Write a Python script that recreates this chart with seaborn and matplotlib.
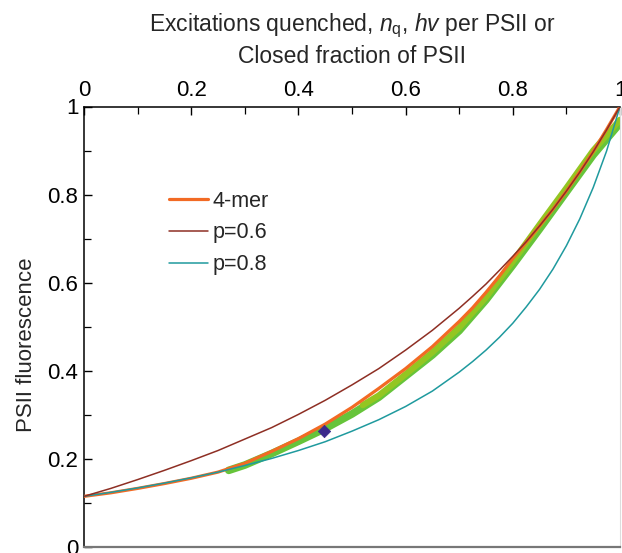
import matplotlib
matplotlib.use("Agg")
import matplotlib.pyplot as plt
import seaborn as sns
import pandas as pd
from matplotlib.ticker import MultipleLocator

# ---- data ----
q_grid = [0.0, 0.05, 0.1, 0.15, 0.2, 0.25, 0.3, 0.35, 0.4, 0.45, 0.5, 0.55,
          0.6, 0.65, 0.7, 0.725, 0.75, 0.775, 0.8, 0.825, 0.85, 0.875, 0.9,
          0.925, 0.95, 0.975, 1.0]
tetramer = [0.115, 0.123, 0.133, 0.144, 0.156, 0.170, 0.190, 0.217, 0.246, 0.279,
            0.317, 0.360, 0.405, 0.455, 0.512, 0.543, 0.578, 0.615, 0.655, 0.692,
            0.729, 0.767, 0.808, 0.852, 0.898, 0.948, 1.0]
p06 = [0.115, 0.133, 0.153, 0.174, 0.196, 0.219, 0.245, 0.271, 0.301, 0.333,
       0.368, 0.405, 0.447, 0.492, 0.542, 0.569, 0.597, 0.628, 0.660, 0.693,
       0.729, 0.767, 0.808, 0.851, 0.897, 0.947, 1.0]
p08 = [0.115, 0.124, 0.134, 0.145, 0.157, 0.170, 0.185, 0.201, 0.219, 0.239,
       0.263, 0.289, 0.319, 0.354, 0.397, 0.421, 0.447, 0.476, 0.508, 0.545,
       0.585, 0.631, 0.684, 0.745, 0.816, 0.899, 1.0]

green_q = [0.27, 0.30, 0.35, 0.40, 0.45, 0.50, 0.55, 0.60, 0.65, 0.70, 0.75,
           0.80, 0.85, 0.90, 0.95, 1.0]
green_f = [0.174, 0.186, 0.212, 0.240, 0.269, 0.302, 0.340, 0.388, 0.436, 0.491,
           0.561, 0.640, 0.722, 0.806, 0.890, 0.962]
lime_q = [0.52, 0.55, 0.60, 0.65, 0.70, 0.75, 0.80, 0.85, 0.90, 0.95, 1.0]
lime_f = [0.322, 0.344, 0.392, 0.442, 0.498, 0.567, 0.648, 0.732, 0.815, 0.900, 0.970]
blue_q = [0.485, 0.50, 0.515]
blue_f = [0.293, 0.302, 0.312]
point_q = [0.448]
point_f = [0.263]

x_ticks = [0, 0.2, 0.4, 0.6, 0.8, 1]
x_ticklabels = ["0", "0.2", "0.4", "0.6", "0.8", "1"]
y_ticks = [0, 0.2, 0.4, 0.6, 0.8, 1]
y_ticklabels = ["0", "0.2", "0.4", "0.6", "0.8", "1"]

sns.set_style("white")
plt.rcParams['font.family'] = ['Liberation Sans', 'DejaVu Sans']
plt.rcParams['mathtext.fontset'] = 'custom'
plt.rcParams['mathtext.rm'] = 'Liberation Sans'
plt.rcParams['mathtext.it'] = 'Liberation Sans:italic'

fig = plt.figure(figsize=(6.22, 5.53), dpi=100)
ax = fig.add_axes([84/622, 1-547/553, 536/622, 440.5/553])

C_OR = "#f26a24"
C_BR = "#8e2f24"
C_TE = "#1f9a9e"
C_GR = "#66c43a"
C_LI = "#93c622"
C_BL = "#3b2a8c"

df_g = pd.DataFrame({"q": green_q, "f": green_f})
df_l = pd.DataFrame({"q": lime_q, "f": lime_f})
df_b = pd.DataFrame({"q": blue_q, "f": blue_f})
df = pd.DataFrame({"q": q_grid, "t": tetramer, "a": p06, "b": p08})

sns.lineplot(data=df_b, x="q", y="f", ax=ax, color=C_BL, lw=3.5, zorder=1)
sns.lineplot(data=df_g, x="q", y="f", ax=ax, color=C_GR, lw=5.5, zorder=2)
sns.lineplot(data=df_l, x="q", y="f", ax=ax, color=C_LI, lw=4.5, zorder=2.5)
sns.lineplot(data=df, x="q", y="t", ax=ax, color=C_OR, lw=2.3, zorder=3, label="4-mer")
sns.lineplot(data=df, x="q", y="b", ax=ax, color=C_TE, lw=1.1, zorder=4, label="p=0.8")
sns.lineplot(data=df, x="q", y="a", ax=ax, color=C_BR, lw=1.1, zorder=5, label="p=0.6")
sns.scatterplot(x=point_q, y=point_f, ax=ax, color=C_BL, marker="D", s=40,
                edgecolor=C_BL, zorder=6)

ax.set_xlim(0, 1)
ax.set_ylim(0, 1)

ax.xaxis.tick_top()
ax.xaxis.set_label_position('top')
ax.set_xticks(x_ticks)
ax.set_xticklabels(x_ticklabels)
ax.set_yticks(y_ticks)
ax.set_yticklabels(y_ticklabels)
ax.xaxis.set_minor_locator(MultipleLocator(0.1))
ax.yaxis.set_minor_locator(MultipleLocator(0.1))
ax.tick_params(axis='both', which='both', direction='in', colors='black',
               labelsize=16)
ax.tick_params(axis='both', which='major', length=6, width=1.0, pad=4)
ax.tick_params(axis='both', which='minor', length=5, width=0.9)
ax.tick_params(axis='x', which='both', top=True, bottom=False)
ax.tick_params(axis='y', which='both', left=True, right=False)

ax.set_xlabel("Excitations quenched, $n_{\\mathrm{q}}$, $hv$ per PSII or\nClosed fraction of PSII",
              fontsize=16.5, labelpad=12, linespacing=1.27)
ax.set_ylabel("PSII fluorescence", fontsize=16)
ax.yaxis.set_label_coords(-0.087, 0.459)

for s in ['left', 'top']:
    ax.spines[s].set_color('black')
    ax.spines[s].set_linewidth(1.1)
ax.spines['bottom'].set_color('#777777')
ax.spines['bottom'].set_linewidth(1.6)
ax.spines['right'].set_color('#dddddd')
ax.spines['right'].set_linewidth(0.8)

h, l = ax.get_legend_handles_labels()
order = [l.index("4-mer"), l.index("p=0.6"), l.index("p=0.8")]
leg = ax.legend([h[i] for i in order], [l[i] for i in order], frameon=False,
                loc='upper left', bbox_to_anchor=(0.122, 0.853), fontsize=15.5,
                handlelength=1.8, handletextpad=0.25, labelspacing=0.5)

fig.savefig("out.png", dpi=100)
